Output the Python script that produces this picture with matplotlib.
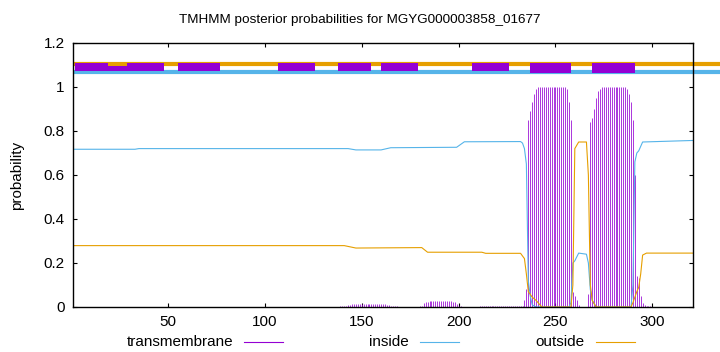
import matplotlib.pyplot as plt
from matplotlib.lines import Line2D

plt.rcParams['font.family'] = ['Liberation Sans', 'DejaVu Sans']

titulo = "TMHMM posterior probabilities for MGYG000003858_01677"
largo = 321

c_tm = '#9400d3'
c_in = '#56b4e9'
c_out = '#e69f00'

# curva "inside"
inside_pos = [1, 33, 35, 143, 147, 160, 165, 199, 203, 232, 233, 234, 235, 236, 237, 238, 240,
              257, 258, 259, 260, 262, 266, 267, 268, 269, 271, 289, 290, 291, 292, 293, 295, 321]
inside_prob = [0.717, 0.717, 0.72, 0.72, 0.714, 0.714, 0.724, 0.726, 0.751, 0.752, 0.745, 0.72,
               0.65, 0.12, 0.05, 0.01, 0.0, 0.0, 0.02, 0.2, 0.21, 0.245, 0.24, 0.2, 0.08, 0.03,
               0.0, 0.0, 0.1, 0.66, 0.7, 0.71, 0.75, 0.757]

# curva "outside"
outside_pos = [1, 141, 147, 181, 184, 212, 214, 232, 234, 235, 236, 238, 240, 243, 258, 259,
               260, 262, 266, 267, 268, 269, 271, 289, 290, 291, 292, 293, 294, 295, 297, 321]
outside_prob = [0.279, 0.279, 0.268, 0.27, 0.249, 0.249, 0.244, 0.244, 0.22, 0.15, 0.07, 0.045,
                0.03, 0.0, 0.0, 0.1, 0.72, 0.75, 0.75, 0.6, 0.1, 0.03, 0.0, 0.0, 0.02, 0.045,
                0.07, 0.09, 0.15, 0.236, 0.245, 0.245]

# impulsos transmembrana por tramos: residuo inicial y valores
tm1_ini = 139
tm1 = [0.003, 0.003, 0.004, 0.005, 0.007, 0.010, 0.012, 0.013, 0.014, 0.014, 0.014, 0.014,
       0.014, 0.014, 0.014, 0.014, 0.014, 0.014, 0.014, 0.014, 0.014, 0.014, 0.013, 0.012,
       0.011, 0.010, 0.006, 0.004, 0.003, 0.003, 0.002]
tm2_ini = 180
tm2 = [0.003, 0.005, 0.018, 0.022, 0.024, 0.026, 0.026, 0.026, 0.026, 0.026, 0.026, 0.026,
       0.026, 0.026, 0.026, 0.026, 0.026, 0.025, 0.022, 0.015, 0.006, 0.003, 0.002, 0.002]
tm3_ini = 210
tm3 = [0.002, 0.003, 0.003, 0.003, 0.003, 0.003, 0.003, 0.003, 0.003, 0.003, 0.003, 0.003,
       0.003, 0.003, 0.003, 0.003, 0.003, 0.003, 0.003, 0.003, 0.003, 0.003, 0.003, 0.003]
tm4_ini = 234
tm4 = [0.03, 0.08, 0.85, 0.89, 0.93, 0.97, 0.99, 1.0, 1.0, 1.0, 1.0, 1.0, 1.0, 1.0, 1.0, 1.0,
       1.0, 1.0, 1.0, 1.0, 1.0, 1.0, 0.99, 0.93, 0.85, 0.07, 0.05, 0.03, 0.01]
tm5_ini = 267
tm5 = [0.06, 0.84, 0.86, 0.90, 0.95, 0.98, 0.99, 1.0, 1.0, 1.0, 1.0, 1.0, 1.0, 1.0, 1.0, 1.0,
       1.0, 1.0, 1.0, 1.0, 0.99, 0.97, 0.93, 0.85, 0.60, 0.14, 0.13, 0.05, 0.02, 0.01, 0.005,
       0.005, 0.005]

# cajas de la barra superior (residuo inicio, fin)
caja_ini = [2, 19, 29, 55, 107, 138, 160, 207, 237, 269]
caja_fin = [19, 29, 48, 77, 126, 155, 179, 226, 258, 291]
caja_alto = [1.109, 1.097, 1.109, 1.109, 1.109, 1.109, 1.109, 1.109, 1.109, 1.109]
caja_bajo = [1.073, 1.073, 1.073, 1.073, 1.073, 1.073, 1.073, 1.073, 1.064, 1.064]

xticks = [50, 100, 150, 200, 250, 300]
yticks = [0, 0.2, 0.4, 0.6, 0.8, 1, 1.2]
ytick_labels = ['0', '0.2', '0.4', '0.6', '0.8', '1', '1.2']

fig = plt.figure(figsize=(7.2, 3.52), dpi=100)
ax = fig.add_axes([73 / 720, 1 - 307 / 352, 620 / 720, 264 / 352])

for ini, vals in [(tm1_ini, tm1), (tm2_ini, tm2), (tm3_ini, tm3), (tm4_ini, tm4), (tm5_ini, tm5)]:
    xs = list(range(ini, ini + len(vals)))
    ax.vlines(xs, 0, vals, color=c_tm, lw=0.55)

ax.plot(inside_pos, inside_prob, color=c_in, lw=0.8)
ax.plot(outside_pos, outside_prob, color=c_out, lw=0.8)

# barra superior
trans = ax.get_yaxis_transform()
ax.plot([0, 1.05], [1.105, 1.105], color=c_out, lw=3, transform=trans, clip_on=False,
        solid_capstyle='butt')
ax.plot([0, 1.05], [1.068, 1.068], color=c_in, lw=3, transform=trans, clip_on=False,
        solid_capstyle='butt')
for a, b, hi, lo in zip(caja_ini, caja_fin, caja_alto, caja_bajo):
    ax.fill_between([a, b], lo, hi, color=c_tm, lw=0, zorder=3)

ax.set_xlim(1, largo)
ax.set_ylim(0, 1.2)
ax.set_xticks(xticks)
ax.set_yticks(yticks)
ax.set_yticklabels(ytick_labels)
ax.tick_params(direction='in', top=True, right=True, length=3, width=0.8, labelsize=11,
               colors='black')
ax.tick_params(axis='x', pad=6)
ax.tick_params(axis='y', pad=6)
for s in ax.spines.values():
    s.set_linewidth(1)
    s.set_zorder(4)

fig.text(0.5, 1 - 20 / 352, titulo, ha='center', va='center', fontsize=9.7)
fig.text(17 / 720, 1 - 175 / 352, 'probability', rotation=90, ha='center', va='center',
         fontsize=11)

# leyenda al pie, estilo gnuplot
nombres = ['transmembrane', 'inside', 'outside']
colores = [c_tm, c_in, c_out]
fin_texto = [233, 409, 585]
ly = 1 - 342 / 352
for nom, col, xt in zip(nombres, colores, fin_texto):
    fig.text(xt / 720, ly, nom, ha='right', va='center', fontsize=11)
    fig.add_artist(Line2D([(xt + 11) / 720, (xt + 50) / 720], [ly, ly], color=col, lw=0.8))

fig.savefig('out.png', dpi=100)
